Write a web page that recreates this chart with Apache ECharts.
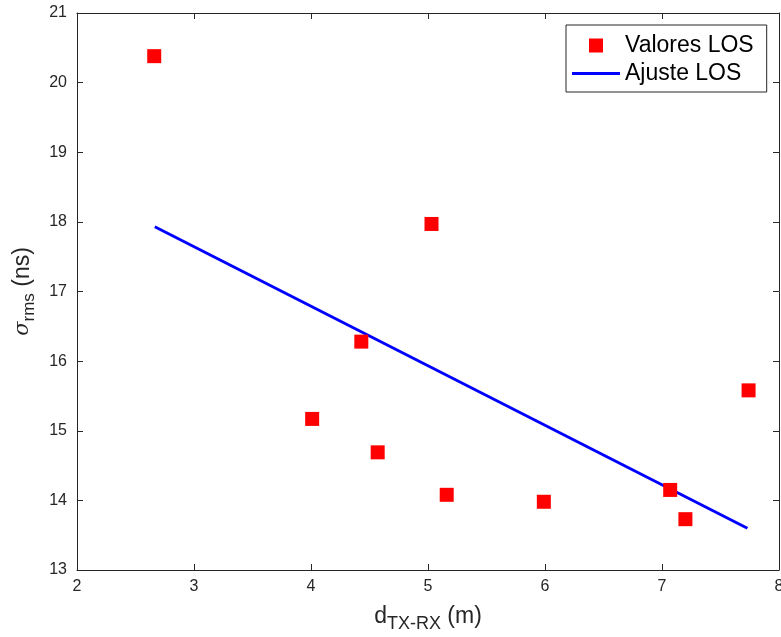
<!DOCTYPE html>
<html>
<head>
<meta charset="utf-8">
<script src="https://cdn.jsdelivr.net/npm/echarts@6/dist/echarts.min.js"></script>
<style>html,body{margin:0;padding:0;background:#fff;overflow:hidden}#c{width:781px;height:637px}</style>
</head>
<body>
<div id="c"></div>
<script>
// Measured points (distance in m, delay spread in ns)
const distLOS = [2.66, 4.01, 4.43, 4.57, 5.03, 5.16, 5.99, 7.07, 7.20, 7.74];
const rmsLOS  = [20.38, 15.17, 16.28, 14.69, 17.97, 14.08, 13.98, 14.15, 13.73, 15.58];
// Fit line endpoints
const fitX = [2.665, 7.73];
const fitY = [17.93, 13.60];
const xTicks = [2, 3, 4, 5, 6, 7, 8];
const yTicks = [13, 14, 15, 16, 17, 18, 19, 20, 21];

const font = 'Liberation Sans, Arial, Helvetica, sans-serif';
const axisColor = '#262626';

const chart = echarts.init(document.getElementById('c'), null, {renderer: 'canvas'});
const axisCommon = {
  axisLine: {show: true, onZero: false, lineStyle: {color: axisColor, width: 1}},
  axisTick: {show: true, inside: true, length: 6, lineStyle: {color: axisColor, width: 1}},
  splitLine: {show: false}
};
chart.setOption({
  animation: false,
  backgroundColor: '#fff',
  grid: {left: 77, right: 2, top: 13, bottom: 67, containLabel: false, outerBoundsMode: 'none'},
  legend: {
    orient: 'vertical',
    left: 566, top: 25,
    padding: [9, 13, 7, 6],
    itemGap: 5,
    itemWidth: 48, itemHeight: 14,
    borderColor: '#262626', borderWidth: 1,
    backgroundColor: '#fff',
    textStyle: {fontFamily: font, fontSize: 23, color: '#000', lineHeight: 23},
    data: [
      {name: 'Valores LOS', icon: 'path://M0,0L0.01,0M17,0L31,0L31,14L17,14ZM47.99,14L48,14'},
      {name: 'Ajuste LOS', icon: 'path://M0,0L0.01,0M0,5.5L48,5.5L48,8.5L0,8.5ZM47.99,14L48,14'}
    ]
  },
  xAxis: [
    Object.assign({
      type: 'value', min: xTicks[0], max: xTicks[xTicks.length - 1], interval: 1,
      position: 'bottom',
      name: '{d|d}{s|TX-RX}{u| (m)}',
      nameLocation: 'middle', nameGap: 31,
      nameTextStyle: {
        rich: {
          d: {fontFamily: font, fontSize: 23, color: '#262626'},
          s: {fontFamily: font, fontSize: 18, color: '#262626', padding: [14, 0, 0, 0]},
          u: {fontFamily: font, fontSize: 23, color: '#262626'}
        }
      },
      axisLabel: {fontFamily: font, fontSize: 16, color: axisColor, margin: 9}
    }, axisCommon),
    Object.assign({
      type: 'value', min: xTicks[0], max: xTicks[xTicks.length - 1], interval: 1,
      position: 'top', axisLabel: {show: false}
    }, axisCommon)
  ],
  yAxis: [
    Object.assign({
      type: 'value', min: yTicks[0], max: yTicks[yTicks.length - 1], interval: 1,
      position: 'left',
      name: '{g|σ}{s|rms}{u| (ns)}',
      nameLocation: 'middle', nameGap: 37, nameRotate: 90,
      nameTextStyle: {
        rich: {
          g: {fontFamily: 'DejaVu Serif, serif', fontStyle: 'italic', fontSize: 21, color: '#262626'},
          s: {fontFamily: font, fontSize: 17, color: '#262626', padding: [14, 0, 0, 0]},
          u: {fontFamily: font, fontSize: 23, color: '#262626'}
        }
      },
      axisLabel: {fontFamily: font, fontSize: 16, color: axisColor, margin: 10}
    }, axisCommon),
    Object.assign({
      type: 'value', min: yTicks[0], max: yTicks[yTicks.length - 1], interval: 1,
      position: 'right', axisLabel: {show: false}
    }, axisCommon)
  ],
  series: [
    {
      name: 'Valores LOS', type: 'scatter', symbol: 'rect', symbolSize: 14,
      itemStyle: {color: '#ff0000', opacity: 1},
      data: distLOS.map((d, i) => [d, rmsLOS[i]]),
      z: 3
    },
    {
      name: 'Ajuste LOS', type: 'line', showSymbol: false, symbol: 'none',
      lineStyle: {color: '#0000ff', width: 3},
      itemStyle: {color: '#0000ff'},
      data: fitX.map((x, i) => [x, fitY[i]]),
      z: 2
    }
  ]
});
</script>
</body>
</html>
